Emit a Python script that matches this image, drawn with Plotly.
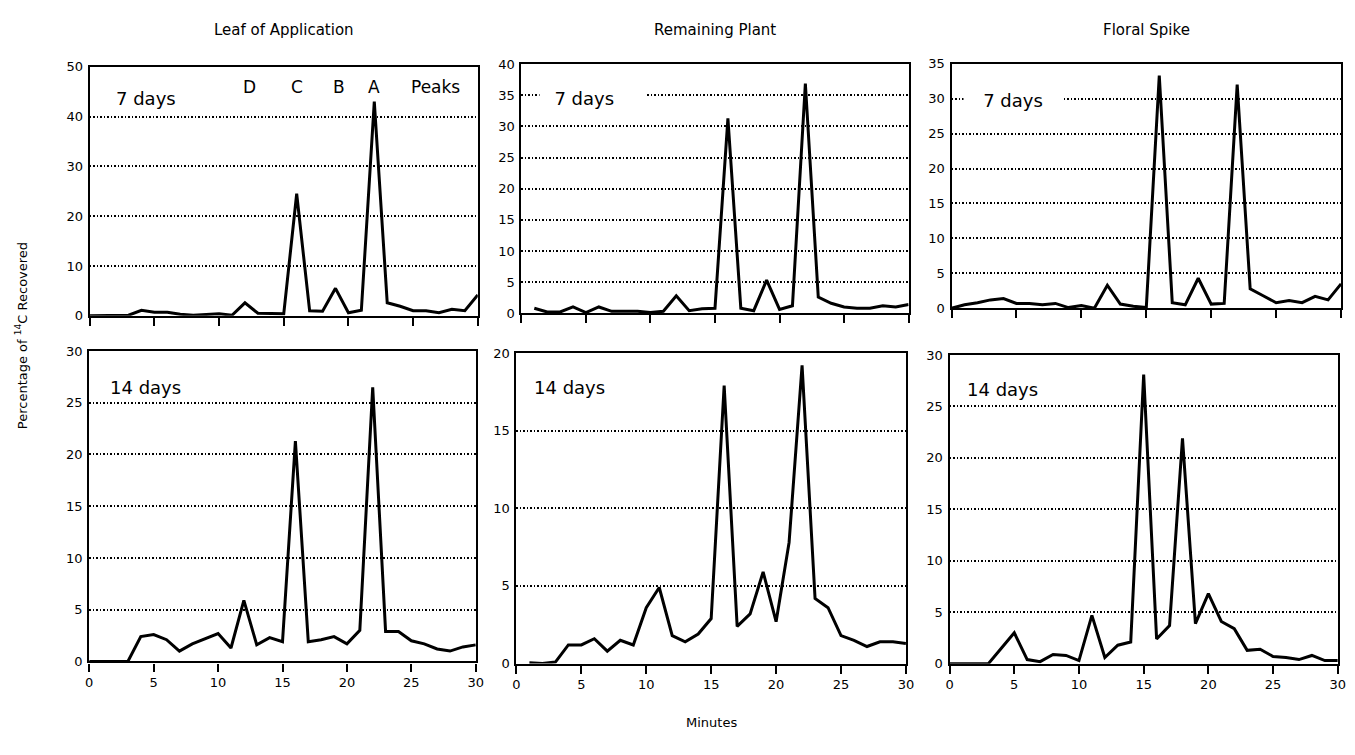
import plotly.graph_objects as go

# ---- data ----
minutes = list(range(0, 31))
minutes_from1 = list(range(1, 31))

leaf_7 = [0, 0, 0, 0.1, 1.1, 0.7, 0.7, 0.3, 0.1, 0.2, 0.4, 0.1, 2.6, 0.5, 0.5, 0.4,
          24.5, 1.0, 0.9, 5.5, 0.6, 1.1, 43.0, 2.6, 1.9, 1.0, 1.0, 0.6, 1.3, 1.0, 4.2]
plant_7 = [0.8, 0.2, 0.2, 1.0, 0.1, 1.0, 0.3, 0.3, 0.3, 0.1, 0.3, 2.8, 0.4, 0.7, 0.8,
           31.3, 0.8, 0.4, 5.3, 0.6, 1.2, 36.9, 2.6, 1.6, 1.0, 0.8, 0.8, 1.2, 1.0, 1.4]
spike_7 = [0, 0.5, 0.8, 1.2, 1.4, 0.7, 0.7, 0.5, 0.7, 0.1, 0.4, 0.0, 3.3, 0.6, 0.3, 0.1,
           33.3, 0.8, 0.5, 4.3, 0.6, 0.7, 32.0, 2.8, 1.8, 0.8, 1.1, 0.8, 1.7, 1.2, 3.5]

leaf_14 = [0, 0, 0, 0, 2.4, 2.6, 2.1, 1.0, 1.7, 2.2, 2.7, 1.3, 5.9, 1.6, 2.3, 1.9,
           21.3, 1.9, 2.1, 2.4, 1.7, 3.0, 26.5, 2.9, 2.9, 2.0, 1.7, 1.2, 1.0, 1.4, 1.6]
plant_14 = [0.05, 0, 0.1, 1.2, 1.2, 1.6, 0.8, 1.5, 1.2, 3.6, 4.9, 1.8, 1.4, 1.9, 2.9,
            17.9, 2.4, 3.2, 5.9, 2.7, 7.8, 19.2, 4.2, 3.6, 1.8, 1.5, 1.1, 1.4, 1.4, 1.3]
spike_14 = [0, 0, 0, 0, 1.5, 3.0, 0.4, 0.2, 0.9, 0.8, 0.3, 4.7, 0.6, 1.8, 2.1,
            28.1, 2.4, 3.7, 21.9, 3.9, 6.8, 4.1, 3.4, 1.3, 1.4, 0.7, 0.6, 0.4, 0.8, 0.3, 0.3]

col_titles = ["Leaf of Application", "Remaining Plant", "Floral Spike"]
day_text = ["7 days", "7 days", "7 days", "14 days", "14 days", "14 days"]
y_ranges = [[0, 50], [0, 40], [0, 35], [0, 30], [0, 20], [0, 30]]
y_dticks = [10, 5, 5, 5, 5, 5]
x_ticks = [0, 5, 10, 15, 20, 25, 30]
peak_letters = ["D", "C", "B", "A", "Peaks"]
peak_pos = [12.35, 16.0, 19.3, 21.95, 26.7]

series = [
    (minutes, leaf_7), (minutes_from1, plant_7), (minutes, spike_7),
    (minutes, leaf_14), (minutes_from1, plant_14), (minutes, spike_14),
]

W, H = 1355, 755
# panel boxes in pixels: (x_left, x_right, y_top, y_bottom)
panel_px = [
    (86.5, 478, 61, 315),
    (522, 912.7, 58.4, 312.4),
    (956, 1349, 57.8, 307.4),
    (86, 476, 351, 667.7),
    (517, 910, 353, 669.9),
    (954, 1345.7, 355, 670),
]

FONT = "DejaVu Sans"
GRID_DASH = "1.5px,2px"
fig = go.Figure()

for i, (xs, ys) in enumerate(series):
    r = i // 3
    n = i + 1
    xa = "x" if n == 1 else f"x{n}"
    ya = "y" if n == 1 else f"y{n}"
    fig.add_trace(go.Scatter(x=xs, y=ys, mode="lines", xaxis=xa, yaxis=ya,
                             line=dict(color="black", width=3), showlegend=False,
                             hoverinfo="skip"))
    x0, x1, y0, y1 = panel_px[i]
    xkey = "xaxis" if n == 1 else f"xaxis{n}"
    ykey = "yaxis" if n == 1 else f"yaxis{n}"
    fig.layout[xkey] = dict(
        domain=[x0 / W, x1 / W], anchor=ya, range=[0, 30],
        tickmode="array", tickvals=x_ticks, ticktext=[str(v) for v in x_ticks],
        showticklabels=(r == 1), ticks="outside", ticklen=8, tickwidth=1.8,
        tickcolor="black", showline=True, linecolor="black", linewidth=2.2,
        mirror=True, showgrid=False, zeroline=False,
        tickfont=dict(family=FONT, size=13, color="black"),
    )
    lo, hi = y_ranges[i]
    fig.layout[ykey] = dict(
        domain=[1 - y1 / H, 1 - y0 / H], anchor=xa, range=[lo, hi],
        tick0=0, dtick=y_dticks[i], showline=True, linecolor="black", linewidth=2.2,
        mirror=True, showgrid=True, gridcolor="black", gridwidth=1.5, griddash=GRID_DASH,
        zeroline=False, ticks="", ticklabelstandoff=2,
        tickfont=dict(family=FONT, size=13, color="black"),
    )

annotations = []
# column titles
col_centers = [(panel_px[c][0] + panel_px[c][1]) / 2 for c in range(3)]
for c, t in enumerate(col_titles):
    annotations.append(dict(text=t, x=col_centers[c] / W, y=1 - 23 / H, xref="paper", yref="paper",
                            showarrow=False, font=dict(family=FONT, size=15, color="black"),
                            xanchor="center", yanchor="middle"))

# day labels (white box interrupts the dotted grid like the reference)
day_x = [1.72, 1.38, 0.92, 1.27, 1.07, 1.07]
day_y = [43.7, 34.55, 29.8, 26.5, 17.8, 26.6]
day_w = [None, 100, 92, None, None, None]
day_align = ["left", "left", "center", "left", "left", "left"]
day_prefix = ["", "&nbsp;&nbsp;", "", "", "", ""]
for i in range(6):
    n = i + 1
    xa = "x" if n == 1 else f"x{n}"
    ya = "y" if n == 1 else f"y{n}"
    ann = dict(text=day_prefix[i] + day_text[i], x=day_x[i], y=day_y[i], xref=xa, yref=ya,
               showarrow=False, xanchor="left", yanchor="middle", align=day_align[i],
               font=dict(family=FONT, size=18, color="black"),
               bgcolor="white", borderpad=3)
    if day_w[i]:
        ann["width"] = day_w[i]
    annotations.append(ann)

# peak letters
for lab, px in zip(peak_letters, peak_pos):
    annotations.append(dict(text=lab, x=px, y=45.9, xref="x", yref="y", showarrow=False,
                            xanchor="center", yanchor="middle",
                            font=dict(family=FONT, size=17, color="black")))

# axis titles
annotations.append(dict(text="Percentage of <sup>14</sup>C Recovered", x=18 / W, y=1 - 335 / H,
                        xref="paper", yref="paper", showarrow=False, textangle=-90,
                        font=dict(family=FONT, size=13, color="black"),
                        xanchor="center", yanchor="middle"))
annotations.append(dict(text="Minutes", x=714 / W, y=1 - 730 / H, xref="paper", yref="paper",
                        showarrow=False, font=dict(family=FONT, size=13, color="black"),
                        xanchor="center", yanchor="middle"))

fig.update_layout(width=W, height=H, autosize=False,
                  margin=dict(l=0, r=0, t=0, b=0),
                  paper_bgcolor="white", plot_bgcolor="white",
                  annotations=annotations, showlegend=False)

fig.write_html("out.html")
